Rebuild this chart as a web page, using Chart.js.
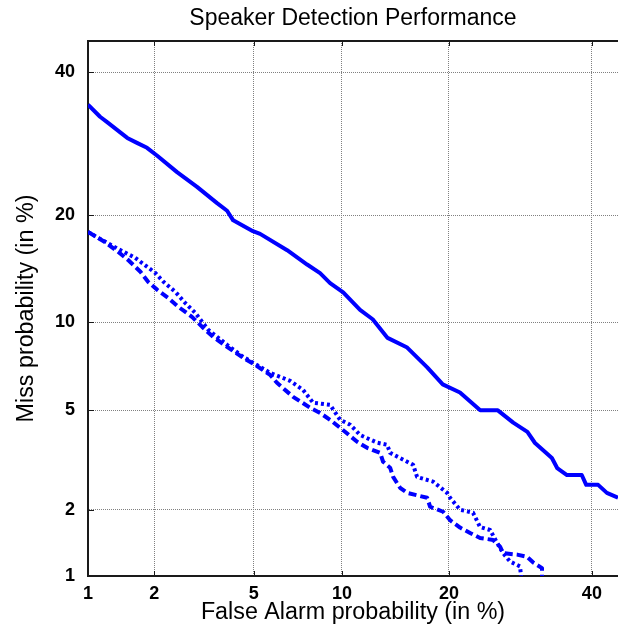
<!DOCTYPE html>
<html>
<head>
<meta charset="utf-8">
<script src="https://cdn.jsdelivr.net/npm/chart.js@4/dist/chart.umd.min.js"></script>
<style>
  html, body { margin: 0; padding: 0; background: #ffffff; overflow: hidden; }
  #wrap { width: 618px; height: 632px; }
</style>
</head>
<body>
<div id="wrap"><canvas id="c" width="618" height="632"></canvas></div>
<script>
// ---- Data (values in %) ----
const xTicks = [1, 2, 5, 10, 20, 40];
const yTicks = [1, 2, 5, 10, 20, 40];

const solidFA   = [1.00, 1.14, 1.23, 1.52, 1.68, 1.86, 2.06, 2.50, 3.02, 3.63, 3.97, 4.19, 4.97, 5.28, 6.59, 7.71, 8.51, 9.17, 10.09, 11.37, 12.4, 13.7, 15.5, 17.6, 19.3, 21.3, 23.8, 26.1, 28.2, 30.2, 31.3, 33.8, 34.6, 36.1, 38.4, 39.1, 41.0, 42.4, 44.2, 46.0];
const solidMiss = [34.9, 33.1, 32.3, 30.0, 29.3, 28.6, 27.5, 25.3, 23.4, 21.4, 20.5, 19.4, 18.2, 17.9, 16.2, 14.8, 14.0, 13.1, 12.3, 10.9, 10.2, 8.9, 8.3, 7.1, 6.2, 5.8, 5.0, 5.0, 4.5, 4.15, 3.76, 3.28, 2.99, 2.8, 2.8, 2.55, 2.55, 2.36, 2.25, 2.15];

const dashedFA   = [1.00, 1.20, 1.38, 1.53, 1.74, 1.88, 2.06, 2.29, 2.53, 2.88, 3.17, 3.50, 3.97, 4.57, 5.06, 5.74, 6.07, 6.91, 7.89, 8.51, 9.17, 10.09, 11.14, 11.94, 13.04, 13.30, 13.93, 14.21, 14.86, 15.54, 17.59, 17.91, 19.34, 20.14, 21.31, 22.53, 23.78, 25.47, 26.40, 26.80, 28.73, 30.15, 31.01, 32.33, 32.33];
const dashedMiss = [18.12, 17.05, 16.04, 15.25, 14.12, 13.22, 12.52, 11.86, 11.14, 10.38, 9.65, 8.97, 8.32, 7.65, 7.25, 6.69, 6.28, 5.60, 5.11, 4.89, 4.61, 4.21, 3.80, 3.60, 3.44, 3.17, 3.00, 2.75, 2.48, 2.36, 2.25, 2.06, 1.96, 1.80, 1.67, 1.58, 1.50, 1.47, 1.37, 1.28, 1.26, 1.23, 1.16, 1.09, 0.9];

const dottedFA   = [1.00, 1.14, 1.38, 1.65, 2.02, 2.19, 2.46, 2.70, 2.97, 3.35, 3.97, 4.57, 5.06, 5.74, 6.75, 7.47, 8.07, 9.17, 9.87, 10.60, 11.37, 12.78, 13.66, 13.93, 16.14, 16.54, 18.23, 19.79, 20.14, 21.31, 22.90, 23.78, 25.07, 25.99, 26.80, 27.76, 29.15, 29.44];
const dottedMiss = [18.12, 17.37, 16.34, 15.44, 14.02, 13.22, 12.35, 11.45, 10.68, 9.45, 8.45, 7.71, 7.30, 6.80, 6.38, 5.93, 5.33, 5.24, 4.61, 4.42, 4.04, 3.77, 3.70, 3.44, 3.08, 2.75, 2.63, 2.36, 2.25, 2.00, 1.94, 1.68, 1.63, 1.43, 1.28, 1.17, 1.11, 0.9];

const xRange = [1, 44.2];
const yRange = [1, 45];

// ---- Normal deviate (probit) helpers for the DET scale ----
function probit(p) {
  p = Math.min(Math.max(p, 1e-9), 1 - 1e-9);
  const a = [-3.969683028665376e+01, 2.209460984245205e+02, -2.759285104469687e+02, 1.383577518672690e+02, -3.066479806614716e+01, 2.506628277459239e+00];
  const b = [-5.447609879822406e+01, 1.615858368580409e+02, -1.556989798598866e+02, 6.680131188771972e+01, -1.328068155288572e+01];
  const c = [-7.784894002430293e-03, -3.223964580411365e-01, -2.400758277161838e+00, -2.549732539343734e+00, 4.374664141464968e+00, 2.938163982698783e+00];
  const d = [7.784695709041462e-03, 3.224671290700398e-01, 2.445134137142996e+00, 3.754408661907416e+00];
  const pl = 0.02425, ph = 1 - pl;
  let q, r;
  if (p < pl) {
    q = Math.sqrt(-2 * Math.log(p));
    return (((((c[0]*q+c[1])*q+c[2])*q+c[3])*q+c[4])*q+c[5]) / ((((d[0]*q+d[1])*q+d[2])*q+d[3])*q+1);
  }
  if (p <= ph) {
    q = p - 0.5; r = q * q;
    return (((((a[0]*r+a[1])*r+a[2])*r+a[3])*r+a[4])*r+a[5])*q / (((((b[0]*r+b[1])*r+b[2])*r+b[3])*r+b[4])*r+1);
  }
  q = Math.sqrt(-2 * Math.log(1 - p));
  return -(((((c[0]*q+c[1])*q+c[2])*q+c[3])*q+c[4])*q+c[5]) / ((((d[0]*q+d[1])*q+d[2])*q+d[3])*q+1);
}
function phi(z) {
  const t = 1 / (1 + 0.2316419 * Math.abs(z));
  const dd = 0.3989423 * Math.exp(-z * z / 2);
  const p = dd * t * (0.3193815 + t * (-0.3565638 + t * (1.781478 + t * (-1.821256 + t * 1.330274))));
  return z > 0 ? 1 - p : p;
}

class ProbitScale extends Chart.Scale {
  determineDataLimits() {
    this.min = this.options.min;
    this.max = this.options.max;
  }
  buildTicks() {
    const vals = this.options.tickValues || [];
    return vals.map(v => ({ value: v }));
  }
  configure() {
    super.configure();
    this._pStart = probit(this.min / 100);
    this._pEnd = probit(this.max / 100);
  }
  getLabelForValue(v) { return String(v); }
  getPixelForValue(v) {
    const dec = (probit(v / 100) - this._pStart) / (this._pEnd - this._pStart);
    return this.getPixelForDecimal(dec);
  }
  getValueForPixel(px) {
    const dec = this.getDecimalForPixel(px);
    return 100 * phi(this._pStart + dec * (this._pEnd - this._pStart));
  }
}
ProbitScale.id = 'probit';
ProbitScale.defaults = {};
Chart.register(ProbitScale);

const toPts = (xs, ys) => xs.map((v, i) => ({ x: v, y: ys[i] }));

const framePlugin = {
  id: 'detFrame',
  beforeDatasetsDraw(chart) {
    const { ctx, chartArea: a, scales } = chart;
    const sx = scales.x, sy = scales.y;
    ctx.save();
    ctx.strokeStyle = '#1a1a1a';
    ctx.lineWidth = 2;
    ctx.beginPath();
    ctx.moveTo(a.left - 1, a.top);
    ctx.lineTo(a.right, a.top);
    ctx.stroke();
    ctx.lineWidth = 1;
    ctx.beginPath();
    xTicks.forEach(v => {
      const px = Math.round(sx.getPixelForValue(v)) + 0.5;
      ctx.moveTo(px, a.bottom); ctx.lineTo(px, a.bottom - 5);
      ctx.moveTo(px, a.top); ctx.lineTo(px, a.top + 5);
    });
    yTicks.forEach(v => {
      const py = Math.round(sy.getPixelForValue(v)) + 0.5;
      ctx.moveTo(a.left, py); ctx.lineTo(a.left + 6, py);
    });
    ctx.stroke();
    ctx.restore();
  }
};

const lineBase = {
  borderColor: '#0000ff',
  backgroundColor: '#0000ff',
  borderWidth: 4,
  pointRadius: 0,
  pointHoverRadius: 0,
  tension: 0,
  fill: false,
  borderCapStyle: 'butt',
  borderJoinStyle: 'round'
};

const labelFont = { family: '"Liberation Sans", Arial, sans-serif', size: 23.3, weight: 'normal', lineHeight: 1.2 };
const tickFont = { family: '"Liberation Sans", Arial, sans-serif', size: 18, weight: 'bold' };

new Chart(document.getElementById('c'), {
  type: 'line',
  data: {
    datasets: [
      Object.assign({ label: 'Solid', data: toPts(solidFA, solidMiss) }, lineBase),
      Object.assign({ label: 'Dashed', data: toPts(dashedFA, dashedMiss), borderDash: [8, 4] }, lineBase),
      Object.assign({ label: 'Dotted', data: toPts(dottedFA, dottedMiss), borderDash: [3, 3] }, lineBase)
    ]
  },
  options: {
    responsive: false,
    animation: false,
    devicePixelRatio: 1,
    layout: { padding: 0 },
    plugins: {
      legend: { display: false },
      tooltip: { enabled: false },
      title: {
        display: true,
        text: 'Speaker Detection Performance',
        fullSize: false,
        color: '#000',
        font: { family: '"Liberation Sans", Arial, sans-serif', size: 23, weight: 'normal', lineHeight: 1.2 },
        padding: { top: 5, bottom: 8.4 }
      }
    },
    scales: {
      x: {
        type: 'probit',
        position: 'bottom',
        min: xRange[0], max: xRange[1],
        tickValues: xTicks,
        afterFit: s => { s.height = 56; },
        grid: { color: '#808080', lineWidth: 1, drawTicks: false },
        border: { display: true, color: '#1a1a1a', width: 2, dash: [1, 1] },
        ticks: { color: '#000', padding: 7, maxRotation: 0, autoSkip: false, font: tickFont },
        title: { display: true, text: 'False Alarm probability (in %)', color: '#000',
                 font: labelFont, padding: { top: 0, bottom: 5 } }
      },
      y: {
        type: 'probit',
        position: 'left',
        min: yRange[0], max: yRange[1],
        tickValues: yTicks,
        afterFit: s => { s.width = 88; },
        grid: { color: '#808080', lineWidth: 1, drawTicks: false },
        border: { display: true, color: '#1a1a1a', width: 2, dash: [1, 1] },
        ticks: { color: '#000', padding: 13, autoSkip: false, font: tickFont },
        title: { display: true, text: 'Miss probability (in %)', color: '#000',
                 font: labelFont, padding: { top: 13, bottom: 0 } }
      }
    }
  },
  plugins: [framePlugin]
});
</script>
</body>
</html>
